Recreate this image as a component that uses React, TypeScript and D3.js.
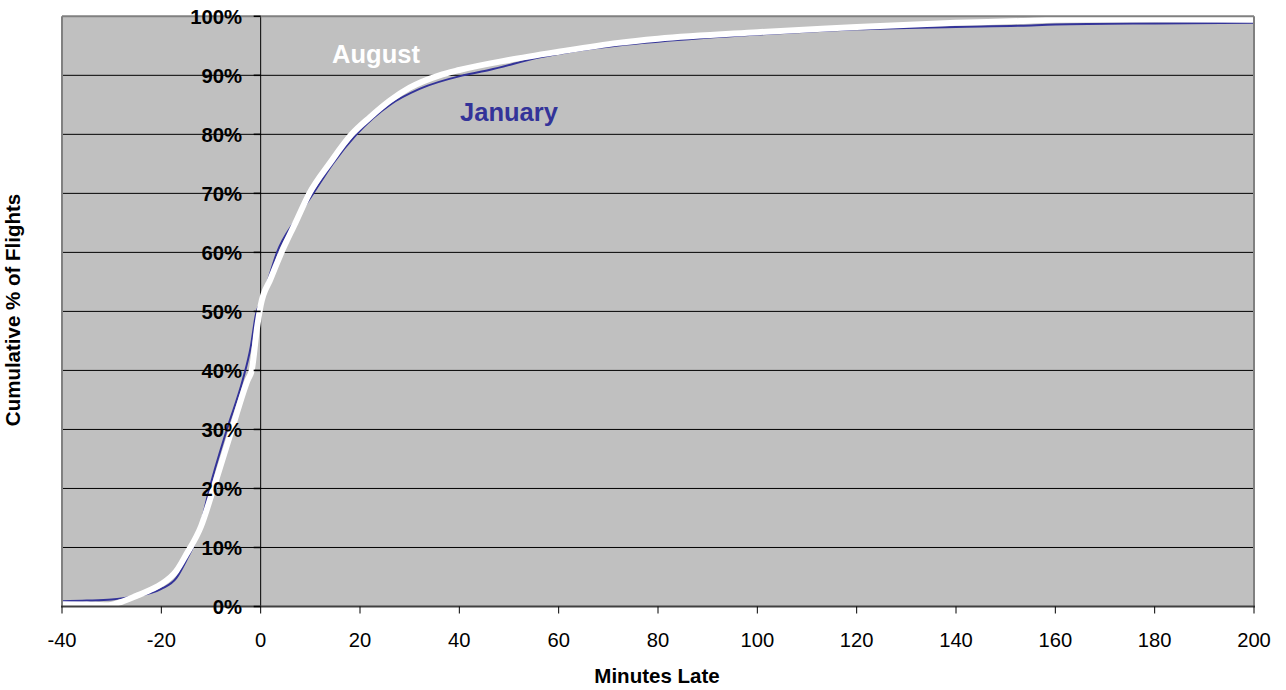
import React from "react";
import * as d3 from "d3";

const xTicks = [-40, -20, 0, 20, 40, 60, 80, 100, 120, 140, 160, 180, 200];
const yTicks = [0, 10, 20, 30, 40, 50, 60, 70, 80, 90, 100];

const augustMinutes = [-40, -35, -31, -28, -25, -22, -20, -17, -15, -12, -9.5, -5.8, -2.6, -1.8, -0.7, 0, 2, 4.2, 7, 9.8, 13.9, 18.3, 22, 26, 30, 36, 40, 50, 60, 72, 80, 100, 113, 120, 140, 153, 160, 180, 200];
const augustValues = [0.4, 0.35, 0.2, 0.8, 1.8, 2.9, 3.8, 6.0, 8.8, 13.6, 20, 30, 38.4, 40, 47.4, 51, 55.5, 60, 65, 70, 75.1, 80, 82.9, 85.7, 87.9, 90, 90.9, 92.6, 94, 95.5, 96.2, 97.3, 97.9, 98.2, 98.9, 99.2, 99.4, 99.5, 99.4];

const januaryMinutes = [-40, -35, -30, -25, -22, -20, -17, -15, -12.5, -10.3, -6.8, -3.6, -2, -0.9, 0, 1.3, 3.3, 7, 10.6, 14.5, 19.3, 26, 32, 40.8, 46, 56, 72.4, 80, 100, 112.6, 120, 140, 153, 160, 180, 200];
const januaryValues = [0.9, 1.0, 1.2, 1.8, 2.3, 3.0, 4.8, 7.8, 12.5, 20, 30, 38.4, 44, 49.7, 51.5, 54.8, 60, 65.5, 70, 75, 80, 85.0, 87.7, 90, 90.9, 93, 95.1, 95.7, 96.9, 97.5, 97.8, 98.2, 98.4, 98.6, 98.8, 98.9];

const W = 1286;
const H = 690;
const left = 62;
const right = 1254;
const top = 16.3;
const bottom = 606.5;

export default function App() {
  const x = d3.scaleLinear().domain([-40, 200]).range([left, right]);
  const y = d3.scaleLinear().domain([0, 100]).range([bottom, top]);
  const line = d3
    .line<[number, number]>()
    .x((d) => x(d[0]))
    .y((d) => y(d[1]))
    .curve(d3.curveMonotoneX);
  const aug = augustMinutes.map((m, i) => [m, augustValues[i]] as [number, number]);
  const jan = januaryMinutes.map((m, i) => [m, januaryValues[i]] as [number, number]);
  const font = "Arial, 'Liberation Sans', sans-serif";
  const x0 = x(0);

  return (
    <svg
      width={W}
      height={H}
      style={{ position: "absolute", left: 0, top: 0, display: "block", background: "#fff" }}
      fontFamily={font}
    >
      <defs>
        <clipPath id="plotclip">
          <rect x={left} y={top - 1} width={right - left} height={bottom - top + 1} />
        </clipPath>
      </defs>
      <rect x={left} y={top} width={right - left} height={bottom - top} fill="#C0C0C0" />
      {yTicks.slice(1, -1).map((t) => (
        <line key={"g" + t} x1={left} x2={right} y1={y(t)} y2={y(t)} stroke="#000" strokeWidth={1} />
      ))}
      <line x1={x0} x2={x0} y1={top} y2={bottom} stroke="#000" strokeWidth={1} />
      <g clipPath="url(#plotclip)">
        <path d={line(jan) || ""} fill="none" stroke="#333399" strokeWidth={2} />
        <path d={line(aug) || ""} fill="none" stroke="#FFFFFF" strokeWidth={6} strokeLinejoin="round" />
      </g>
      {/* frame */}
      <line x1={left} x2={right} y1={top} y2={top} stroke="#808080" strokeWidth={2} />
      <line x1={left} x2={left} y1={top} y2={bottom} stroke="#808080" strokeWidth={2} />
      <line x1={right} x2={right} y1={top} y2={bottom} stroke="#808080" strokeWidth={2} />
      <line x1={left - 1} x2={right + 1} y1={bottom} y2={bottom} stroke="#404040" strokeWidth={2} />
      {/* y ticks and labels */}
      {yTicks.map((t) => (
        <g key={"y" + t}>
          <line x1={x0 - 7} x2={x0} y1={y(t)} y2={y(t)} stroke="#000" strokeWidth={1.5} />
          <text
            x={242}
            y={y(t)}
            dy="0.36em"
            textAnchor="end"
            fontSize={20.3}
            fontWeight="bold"
            fill="#000"
          >
            {t + "%"}
          </text>
        </g>
      ))}
      {/* x ticks and labels */}
      {xTicks.map((t) => (
        <g key={"x" + t}>
          <line x1={x(t)} x2={x(t)} y1={bottom} y2={bottom + 7} stroke="#000" strokeWidth={1} />
          <text x={x(t)} y={647} textAnchor="middle" fontSize={20.2} fill="#000">
            {t}
          </text>
        </g>
      ))}
      <text x={657} y={683} textAnchor="middle" fontSize={20.5} fontWeight="bold" fill="#000">
        Minutes Late
      </text>
      <text
        transform={`translate(19.5,310) rotate(-90)`}
        textAnchor="middle"
        fontSize={20.5}
        fontWeight="bold"
        fill="#000"
      >
        Cumulative % of Flights
      </text>
      <text x={376} y={63.3} textAnchor="middle" fontSize={25.5} fontWeight="bold" fill="#FFFFFF">
        August
      </text>
      <text x={509} y={120.7} textAnchor="middle" fontSize={25.5} fontWeight="bold" fill="#333399">
        January
      </text>
    </svg>
  );
}
